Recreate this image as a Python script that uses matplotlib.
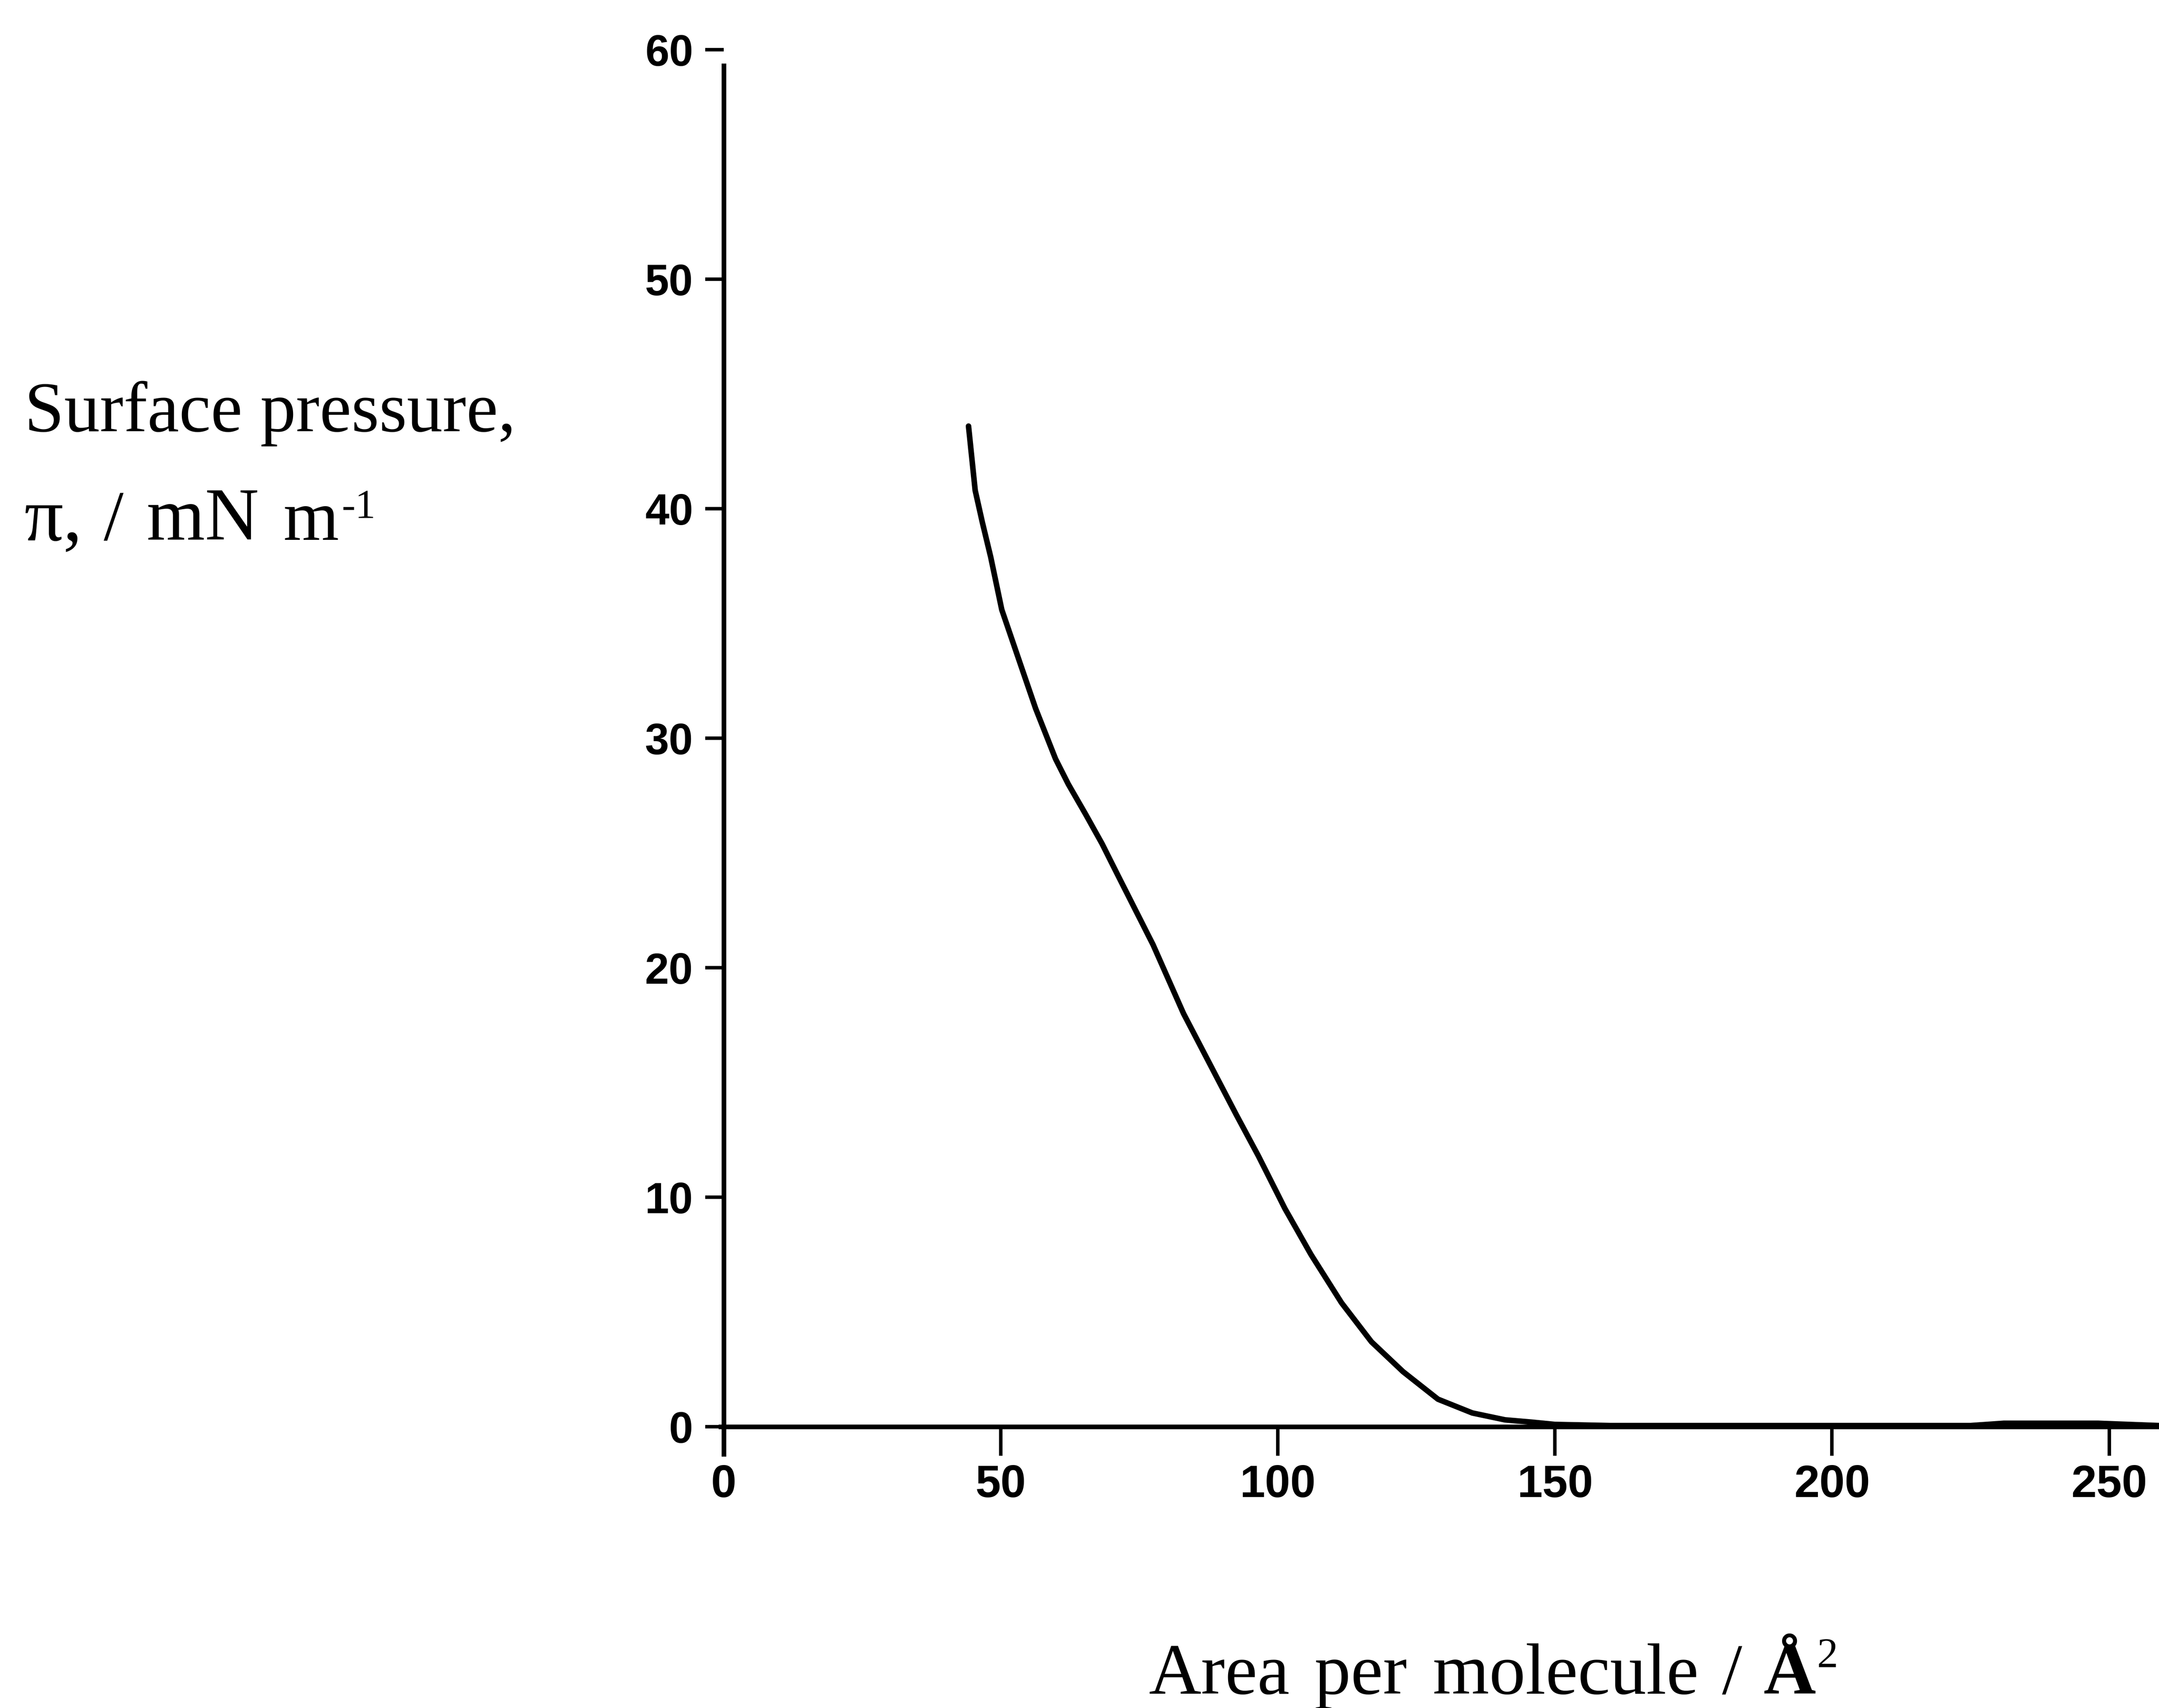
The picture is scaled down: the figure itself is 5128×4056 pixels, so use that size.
import matplotlib
matplotlib.use("Agg")
import matplotlib.pyplot as plt
from matplotlib.transforms import offset_copy

# Surface pressure isotherm: area per molecule (Å^2) vs surface pressure (mN/m)
area = [44.2, 45.4, 46.7, 48.2, 50.2, 53.6, 56.3, 59.9, 62.2, 65.3, 68.3,
        71.0, 77.5, 83.0, 88.4, 92.5, 96.5, 101.3, 106.0, 111.5, 116.9,
        122.6, 128.9, 135.1, 141.0, 145.8, 150.0, 160.0, 180.0, 200.0,
        225.0, 231.0, 248.0, 259.0]
pressure = [43.6, 40.8, 39.4, 37.9, 35.6, 33.2, 31.3, 29.1, 28.0, 26.7, 25.4,
            24.1, 21.0, 18.0, 15.5, 13.6, 11.8, 9.5, 7.5, 5.4, 3.7,
            2.4, 1.2, 0.6, 0.3, 0.2, 0.1, 0.05, 0.05, 0.05,
            0.05, 0.15, 0.15, 0.05]

x_ticks = [0, 50, 100, 150, 200, 250]
y_ticks = [0, 10, 20, 30, 40, 50, 60]

W, H, DPI = 5128, 4056, 100
fig = plt.figure(figsize=(W / DPI, H / DPI), dpi=DPI)
fig.patch.set_facecolor("white")

ax = fig.add_axes([0.3223, 0.1378, 0.6777, 0.8398])
ax.set_xlim(-5, 259)
ax.set_ylim(-2, 60.5)

ax.plot(area, pressure, color="black", lw=9.5, solid_capstyle="round",
        solid_joinstyle="round", zorder=3)

for side in ("top", "right"):
    ax.spines[side].set_visible(False)
ax.spines["left"].set_position(("data", 0))
ax.spines["bottom"].set_position(("data", 0))
ax.spines["left"].set_bounds(-1.2, 59.3)
ax.spines["bottom"].set_bounds(-0.5, 259)
for side in ("left", "bottom"):
    ax.spines[side].set_linewidth(8)
    ax.spines[side].set_color("black")

ax.set_xticks(x_ticks)
ax.set_yticks(y_ticks)
ax.set_xticklabels([str(v) for v in x_ticks])
ax.set_yticklabels([str(v) for v in y_ticks])
ax.tick_params(axis="y", direction="out", length=32, width=6, pad=20)
ax.tick_params(axis="x", direction="out", length=50, width=6, pad=14)
for lab in ax.get_xticklabels():
    lab.set_fontfamily("Liberation Sans")
    lab.set_fontweight("bold")
    lab.set_fontsize(78)
for lab in ax.get_yticklabels():
    lab.set_fontfamily("Liberation Sans")
    lab.set_fontweight("bold")
    lab.set_fontsize(74)

renderer = fig.canvas.get_renderer()


def text_run(x, y, pieces):
    """Draw consecutive text pieces on one baseline; each piece is
    (string, fontsize, weight, rise_px, gap_before_px)."""
    trans = fig.transFigure
    dx = 0.0
    for s, size, weight, rise, gap in pieces:
        dx += gap
        t = fig.text(x, y, s, fontfamily="Liberation Serif", fontsize=size,
                     fontweight=weight, color="black", ha="left",
                     va="baseline",
                     transform=offset_copy(trans, fig=fig, x=dx * 72 / DPI,
                                           y=rise * 72 / DPI, units="points"))
        dx += t.get_window_extent(renderer).width


LABEL = 122
text_run(0.0113, 0.7475, [("Surface pressure,", LABEL, "normal", 0, 0)])
text_run(0.0113, 0.684, [("π,", 132, "normal", 0, 0),
                         (" /", LABEL, "normal", 0, 8),
                         (" mN", 128, "normal", 0, 10),
                         (" m", LABEL, "normal", 0, 16),
                         ("-1", 70, "normal", 52, 6)])
text_run(0.532, 0.0084, [("Area", 124, "normal", 0, 0),
                         (" per", 124, "normal", 0, 16),
                         (" molecule", 124, "normal", 0, 18),
                         (" /", 124, "normal", 0, 12),
                         (" ", 124, "normal", 0, 0),
                         ("Å", 124, "bold", 0, 8),
                         ("2", 72, "normal", 64, 2)])

fig.savefig("out.png", dpi=DPI, facecolor="white")
